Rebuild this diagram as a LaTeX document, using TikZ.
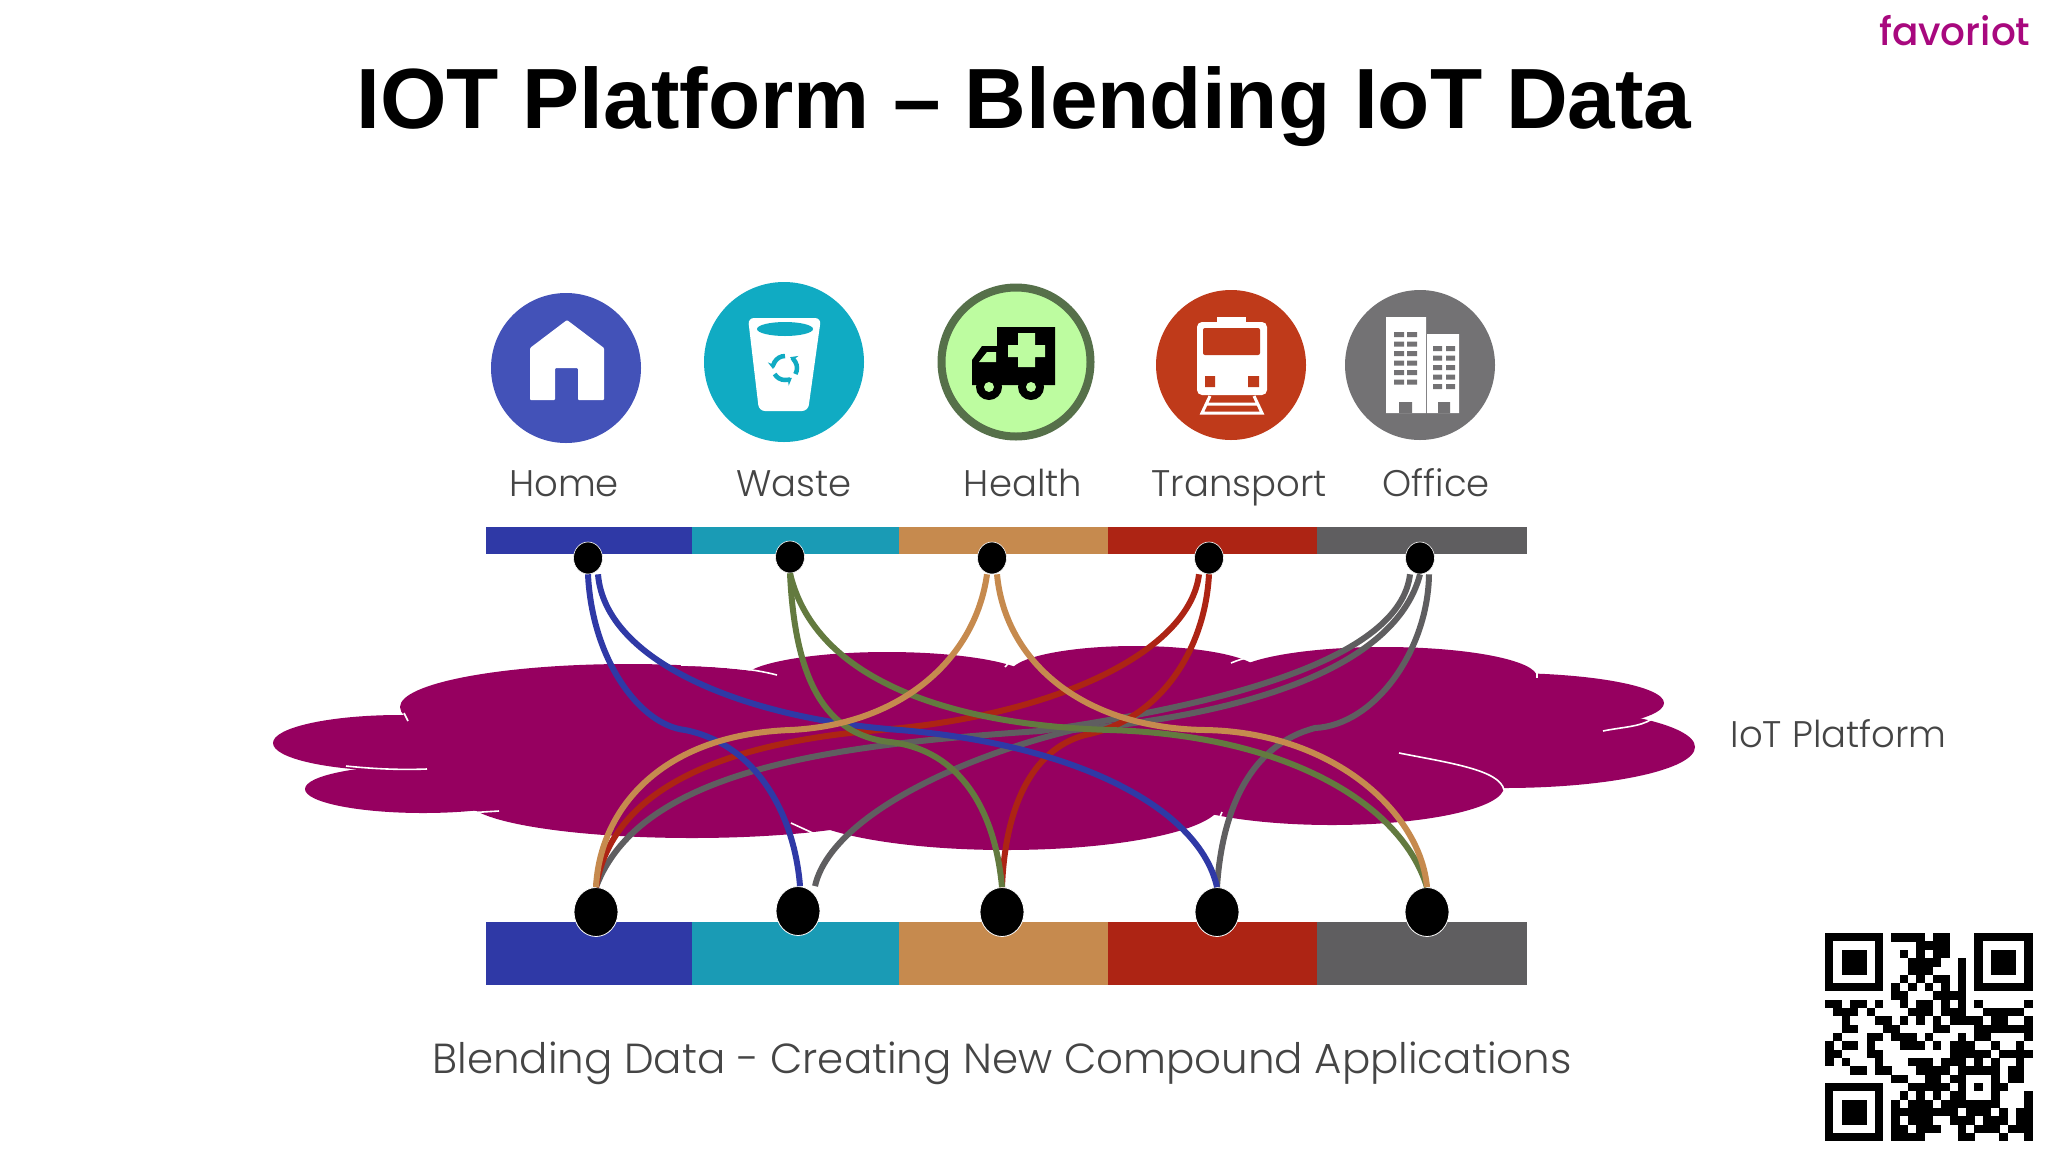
\documentclass[tikz,border=0pt]{standalone}
\usepackage{fontspec}
\setmainfont{Liberation Sans}
\newfontfamily\thinfont{Poppins Light}
\newfontfamily\brandfont{Poppins Medium}
\usepackage{tikz}
\usetikzlibrary{arrows.meta,positioning,shapes.geometric}
\usepackage{xcolor}
\definecolor{cloudpurple}{HTML}{960060}
\definecolor{homeblue}{HTML}{4352B8}
\definecolor{wasteteal}{HTML}{10ABC3}
\definecolor{healthring}{HTML}{56704A}
\definecolor{healthlime}{HTML}{BDFCA0}
\definecolor{transred}{HTML}{BF3A1A}
\definecolor{officegrey}{HTML}{737274}
\definecolor{barblue}{HTML}{2F39A6}
\definecolor{barteal}{HTML}{1A9BB5}
\definecolor{barorange}{HTML}{C68A4E}
\definecolor{barred}{HTML}{AD2414}
\definecolor{bargrey}{HTML}{5F5E60}
\definecolor{linkgreen}{HTML}{637A3F}
\definecolor{brandpink}{HTML}{A8087E}
\definecolor{labelgrey}{HTML}{454545}

\begin{document}
\begin{tikzpicture}[x=1pt, y=-1pt, node distance=0pt,
  bar/.style={inner sep=0pt, outer sep=0pt, minimum height=#1, anchor=north west},
  topbar/.style={bar=27pt}, botbar/.style={bar=63pt},
  topdot/.style={ellipse, fill=black, draw=white, line width=0.6pt, inner sep=0pt, minimum width=29pt, minimum height=32pt},
  botdot/.style={ellipse, fill=black, draw=white, line width=0.8pt, inner sep=0pt, minimum width=44pt, minimum height=49pt},
  icon/.style={circle, inner sep=0pt, minimum size=150pt},
  iconlabel/.style={anchor=base, text=labelgrey, font=\thinfont\fontsize{37}{44}\selectfont},
  link/.style={line width=6pt},
  glint/.style={white, line width=1.6pt}]
\useasboundingbox[fill=white] (0,0) rectangle (2048,1152);

\node[anchor=base, font=\bfseries\fontsize{85.5}{100}\selectfont] (title) at (1024,128) {IOT Platform – Blending IoT Data};
\node[anchor=base east, text=brandpink, font=\brandfont\fontsize{39}{44}\selectfont] (brand) at (2034,45) {favoriot};

% icons
\node[icon, fill=homeblue] (home) at (566,368) {};
\node[icon, fill=wasteteal, minimum size=160pt] (waste) at (784,362) {};
\node[icon, fill=healthlime, draw=healthring, line width=8pt, minimum size=149pt] (health) at (1016,362) {};
\node[icon, fill=transred] (transport) at (1231,365) {};
\node[icon, fill=officegrey] (office) at (1420,365) {};

\fill[white, rounded corners=1pt] (567,320) -- (604,348) -- (604,400) -- (578,400) -- (578,368) -- (555,368) -- (555,400) -- (530,400) -- (530,348) -- cycle;

\fill[white, rounded corners=6pt] (748,318) -- (821,318) -- (808,411) -- (759,411) -- cycle;
\fill[wasteteal] (785,329) ellipse [x radius=28pt, y radius=7pt];
\foreach \ang in {90,210,330}
  \draw[wasteteal, line width=4.5pt, -{Stealth[length=7pt,width=9pt]}] ([shift={(\ang:12pt)}]785,368) arc [start angle=\ang, delta angle=95, radius=12pt];

\fill[black] (997,327) -- (1055,327) -- (1055,385) -- (972,385) -- (972,360) -- (982,346) -- (997,346) -- cycle;
\fill[healthlime] (979,362) -- (987,352) -- (996,352) -- (996,362) -- cycle;
\fill[healthlime] (1018,333) rectangle (1035,367) (1008,345) rectangle (1045,357);
\foreach \wx in {989,1031} {
  \fill[black] (\wx,387) circle [radius=13pt];
  \fill[healthlime] (\wx,387) circle [radius=5pt];
}

\fill[white] (1217,317) rectangle (1246,323);
\fill[white, rounded corners=5pt] (1197,322) rectangle (1267,395);
\fill[transred, rounded corners=2pt] (1203,328) rectangle (1260,355);
\fill[transred] (1205,376) rectangle (1215,387) (1248,376) rectangle (1259,387);
\draw[white, line width=3pt] (1210,396) -- (1202,413) -- (1262,413) -- (1254,396) (1206,404) -- (1258,404);

\fill[white] (1386,317) rectangle (1426,413) (1427,334) rectangle (1459,413);
\foreach \wy in {0,...,5}
  \fill[officegrey] (1394,332+\wy*9.5) rectangle +(10,5) (1407,332+\wy*9.5) rectangle +(10,5);
\foreach \wy in {0,...,4}
  \fill[officegrey] (1433,346+\wy*9.5) rectangle +(9,5) (1446,346+\wy*9.5) rectangle +(9,5);
\fill[officegrey] (1399,402) rectangle (1412,413) (1438,402) rectangle (1450,413);

\node[iconlabel] (lhome) at (564,496) {Home};
\node[iconlabel] (lwaste) at (794,496) {Waste};
\node[iconlabel] (lhealth) at (1023,496) {Health};
\node[iconlabel] (ltransport) at (1239,496) {Transport};
\node[iconlabel] (loffice) at (1436,496) {Office};

% platform cloud
\foreach \cx/\cy/\rx/\ry in {400/743/127/28, 423/789/118/24, 628/707/228/43, 887/680/145/28, 1135/673/125/27, 1384/677/153/30, 1504/703/160/30, 1504/747/191/41, 1332/787/172/38, 1006/803/215/47, 692/800/225/38, 1000/740/500/72, 620/765/260/55}
  \fill[cloudpurple] (\cx,\cy) ellipse [x radius=\rx pt, y radius=\ry pt];
\draw[glint] (346,766) .. controls (375,769) and (400,770) .. (427,769);
\draw[glint] (466,813) -- (499,811);
\draw[glint] (404,713) -- (408,721);
\draw[glint] (681,665) .. controls (720,666) and (750,668) .. (777,675);
\draw[glint] (1005,667) .. controls (1008,662) and (1015,660) .. (1026,657);
\draw[glint] (1231,663) .. controls (1238,660) and (1245,658) .. (1255,656);
\draw[glint] (1537,672) -- (1537,678);
\draw[glint] (1603,731) .. controls (1622,727) and (1640,727) .. (1652,719);
\draw[glint] (1399,753) .. controls (1450,763) and (1500,770) .. (1504,790);
\draw[glint] (1222,812) -- (1217,824);
\draw[glint] (791,823) -- (815,834);

\node[anchor=base west, text=labelgrey, font=\thinfont\fontsize{37}{44}\selectfont] (platform) at (1727,747) {IoT Platform};

% bars
\node[topbar, minimum width=206pt, fill=barblue] (ta) at (486,527) {};
\node[topbar, minimum width=207pt, fill=barteal, right=of ta.north east, anchor=north west] (tb) {};
\node[topbar, minimum width=209pt, fill=barorange, right=of tb.north east, anchor=north west] (tc) {};
\node[topbar, minimum width=209pt, fill=barred, right=of tc.north east, anchor=north west] (td) {};
\node[topbar, minimum width=210pt, fill=bargrey, right=of td.north east, anchor=north west] (te) {};
\node[botbar, minimum width=206pt, fill=barblue] (ba) at (486,922) {};
\node[botbar, minimum width=207pt, fill=barteal, right=of ba.north east, anchor=north west] (bb) {};
\node[botbar, minimum width=209pt, fill=barorange, right=of bb.north east, anchor=north west] (bc) {};
\node[botbar, minimum width=209pt, fill=barred, right=of bc.north east, anchor=north west] (bd) {};
\node[botbar, minimum width=210pt, fill=bargrey, right=of bd.north east, anchor=north west] (be) {};

\node[topdot] (t1) at (588,558) {};
\node[topdot] (t2) at (790,557) {};
\node[topdot] (t3) at (992,558) {};
\node[topdot] (t4) at (1209,558) {};
\node[topdot] (t5) at (1420,558) {};
\node[botdot] (b1) at (596,912) {};
\node[botdot] (b2) at (798,911) {};
\node[botdot] (b3) at (1002,912) {};
\node[botdot] (b4) at (1217,912) {};
\node[botdot] (b5) at (1427,912) {};

% links
\draw[link, bargrey] ([xshift=-10pt]t5.south) .. controls (1400,660) and (1220,705) .. (1040,731) .. controls (830,745) and (640,770) .. (b1.north);
\draw[link, bargrey] (t5.south) .. controls (1395,670) and (1240,715) .. (1073,730) .. controls (950,760) and (830,820) .. ([xshift=17pt]b2.north);
\draw[link, bargrey] ([xshift=9pt]t5.south) .. controls (1428,650) and (1375,725) .. (1315,728) .. controls (1250,745) and (1222,810) .. (b4.north);
\draw[link, barred] ([xshift=-10pt]t4.south) .. controls (1190,650) and (1060,715) .. (880,730) .. controls (700,745) and (610,800) .. (b1.north);
\draw[link, barred] (t4.south) .. controls (1205,650) and (1160,720) .. (1085,735) .. controls (1030,750) and (1005,810) .. (b3.north);
\draw[link, barblue] (t1.south) .. controls (592,660) and (640,725) .. (685,730) .. controls (760,745) and (795,820) .. ([xshift=2pt]b2.north);
\draw[link, barblue] ([xshift=10pt]t1.south) .. controls (605,660) and (740,718) .. (900,730) .. controls (1080,745) and (1200,810) .. (b4.north);
\draw[link, linkgreen] (t2.south) .. controls (795,680) and (825,735) .. (890,742) .. controls (960,750) and (995,810) .. (b3.north);
\draw[link, linkgreen] (t2.south) .. controls (815,680) and (950,725) .. (1110,730) .. controls (1280,735) and (1400,800) .. (b5.north);
\draw[link, barorange] ([xshift=-5pt]t3.south) .. controls (975,660) and (900,725) .. (790,730) .. controls (660,735) and (600,810) .. (b1.north);
\draw[link, barorange] ([xshift=5pt]t3.south) .. controls (1005,660) and (1080,728) .. (1205,730) .. controls (1330,732) and (1420,810) .. (b5.north);

\node[anchor=base, text=labelgrey, font=\thinfont\fontsize{42}{48}\selectfont] (caption) at (1002,1073) {Blending Data - Creating New Compound Applications};

% qr code
\foreach \qx/\qy in {0/0,18/0,0/18} {
  \fill[black] (1825+\qx*8.3,933+\qy*8.33) rectangle +(58.1,58.3);
  \fill[white] (1833.3+\qx*8.3,941.33+\qy*8.33) rectangle +(41.5,41.65);
  \fill[black] (1841.6+\qx*8.3,949.66+\qy*8.33) rectangle +(24.9,25);
}
\foreach \qr/\qcols in {0/{8,9,10,11,13,14}, 1/{11,12,13,14}, 2/{9,11,13,14}, 3/{10,11,12,13,16}, 4/{10,11,12,16}, 5/{9,11,13,14,16}, 6/{8,10,12,14,16}, 7/{8,9,13,14,15,16},
  8/{0,1,3,4,6,9,11,12,14,16,18,24}, 9/{1,2,3,5,10,11,12,14,15,16,19,20,21,22,23}, 10/{2,6,7,9,11,13,15,16,17,18,20,21,24}, 11/{2,3,7,8,13,14,18,19,20,21,22,23,24},
  12/{1,5,6,8,9,10,12,16,18,19,24}, 13/{0,2,3,5,9,10,11,13,15,16,17,20,23}, 14/{0,1,5,6,15,16,17,18,19,21,22,23,24}, 15/{0,2,6,10,11,12,14,15,16,18,20,23},
  16/{3,4,6,7,11,12,13,14,16,17,18,19,20,22,23}, 17/{8,9,12,13,15,16,20,22,23}, 18/{10,11,12,13,14,16,18,20,21}, 19/{9,11,13,15,16,20,24},
  20/{8,10,11,12,14,15,16,17,18,19,20,24}, 21/{8,9,10,11,12,13,14,15,17,18,19,21,23,24}, 22/{8,10,11,12,15,16,17,19,20,21,23,24}, 23/{8,9,11,12,13,16,18,19,20,22,23,24}, 24/{8,9,10,11,16,17,21,24}}
  \foreach \qc in \qcols
    \fill[black] (1825+\qc*8.3,933+\qr*8.33) rectangle +(8.5,8.5);
\end{tikzpicture}
\end{document}
